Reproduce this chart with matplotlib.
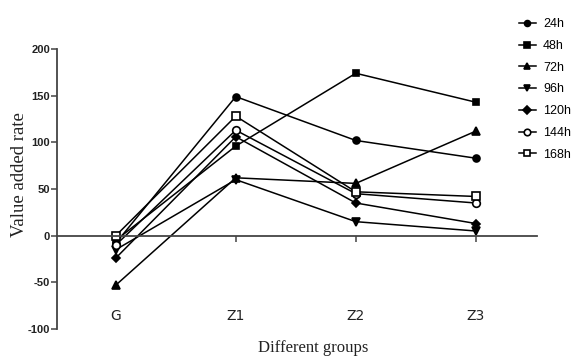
import matplotlib
matplotlib.use("Agg")
import matplotlib.pyplot as plt

groups = ["G", "Z1", "Z2", "Z3"]
series_labels = ["24h", "48h", "72h", "96h", "120h", "144h", "168h"]
v24 = [-8, 149, 102, 83]
v48 = [-5, 96, 174, 143]
v72 = [-53, 62, 56, 112]
v96 = [-15, 60, 15, 5]
v120 = [-24, 106, 35, 13]
v144 = [-10, 113, 45, 35]
v168 = [0, 128, 47, 42]
y_ticks = [-100, -50, 0, 50, 100, 150, 200]

values = [v24, v48, v72, v96, v120, v144, v168]
markers = ["o", "s", "^", "v", "D", "o", "s"]
faces = ["black", "black", "black", "black", "black", "white", "white"]
msizes = [5, 5, 5.5, 5.5, 4.5, 5.5, 5.5]

fig = plt.figure(figsize=(5.76, 3.56), dpi=100)
ax = fig.add_axes([57/576, 1-329/356, (537-57)/576, (329-49)/356])

x = list(range(len(groups)))
handles = []
for vals, m, fc, ms, lab in zip(values, markers, faces, msizes, series_labels):
    h, = ax.plot(x, vals, color="black", lw=1.1, marker=m, markersize=ms,
                 markerfacecolor=fc, markeredgecolor="black", markeredgewidth=1.2,
                 label=lab)
    handles.append(h)

ax.set_xlim(-0.49, 3.51)
ax.set_ylim(-100, 200)
ax.set_yticks(y_ticks)
ax.set_xticks(x)
ax.set_xticklabels(groups, fontsize=8, fontweight="bold", family="Liberation Sans")
ax.set_yticklabels([str(t) for t in y_ticks], fontsize=8, fontweight="bold",
                   family="Liberation Sans")
for s in ["top", "right"]:
    ax.spines[s].set_visible(False)
ax.spines["bottom"].set_position(("data", 0))
ax.spines["left"].set_linewidth(1.3)
ax.spines["bottom"].set_linewidth(1.3)
ax.spines["left"].set_color("#444444")
ax.spines["bottom"].set_color("#444444")
ax.tick_params(axis="x", direction="out", length=4, width=1.1, pad=49, colors="#444444",
               labelcolor="#222222")
ax.tick_params(axis="y", direction="out", length=4, width=1.1, pad=1, colors="#444444",
               labelcolor="#222222")

fig.text(20/576, 1-175/356, "Value added rate", rotation=90, ha="center", va="center",
         fontsize=13.5, family="Liberation Serif", color="#222222")
fig.text(313/576, 1-348/356, "Different groups", ha="center", va="center",
         fontsize=12, family="Liberation Serif", color="#222222")

fig.legend(handles=handles, labels=series_labels, loc="upper left",
           bbox_to_anchor=(508/576, 1-7/356), frameon=False,
           handlelength=1.3, handletextpad=0.6, labelspacing=0.78, markerscale=0.85,
           prop={"family": "Liberation Sans", "size": 9})

fig.savefig("out.png", dpi=100)
